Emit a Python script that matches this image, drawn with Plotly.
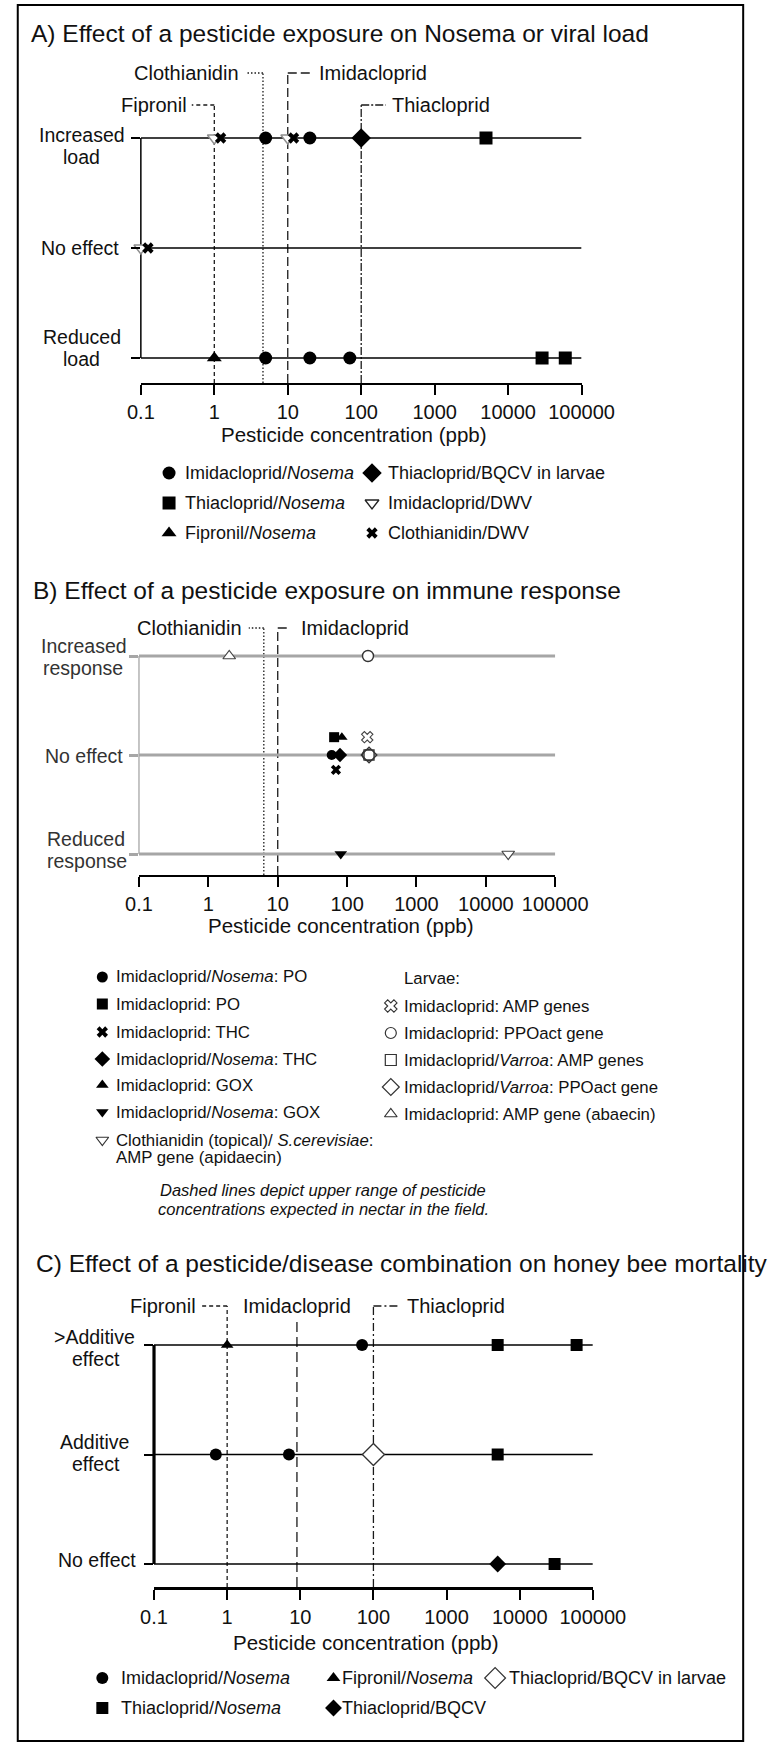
import math
import plotly.graph_objects as go

W, H = 779, 1745
FONT = "Liberation Sans, Arial, sans-serif"
INK = "#111111"

TICK_VALS = [0.1, 1, 10, 100, 1000, 10000, 100000]
TICK_TEXT = ["0.1", "1", "10", "100", "1000", "10000", "100000"]

# ---------------- A) pesticide exposure -> Nosema / viral load ----------------
A_EFFECTS = ["Reduced load", "No effect", "Increased load"]
A_IMID_NOSEMA_X = [5, 20, 5, 20, 70]
A_IMID_NOSEMA_EFF = ["Increased load", "Increased load", "Reduced load", "Reduced load", "Reduced load"]
A_THIA_NOSEMA_X = [5000, 29000, 60000]
A_THIA_NOSEMA_EFF = ["Increased load", "Reduced load", "Reduced load"]
A_FIP_NOSEMA_X = [1]
A_FIP_NOSEMA_EFF = ["Reduced load"]
A_THIA_BQCV_X = [100]
A_THIA_BQCV_EFF = ["Increased load"]
A_IMID_DWV_X = [0.1, 1, 10]
A_IMID_DWV_EFF = ["No effect", "Increased load", "Increased load"]
A_CLOTH_DWV_X = [0.125, 1.22, 12]
A_CLOTH_DWV_EFF = ["No effect", "Increased load", "Increased load"]
A_FIELD = ["Fipronil", "Clothianidin", "Imidacloprid", "Thiacloprid"]
A_FIELD_PPB = [1, 4.6, 10, 100]

# ---------------- B) pesticide exposure -> immune response ----------------
B_EFFECTS = ["Reduced response", "No effect", "Increased response"]
B_IMID_NOSEMA_PO_X = [60]
B_IMID_NOSEMA_PO_EFF = ["No effect"]
B_IMID_PO_X = [65]
B_IMID_PO_EFF = ["No effect"]
B_IMID_THC_X = [69]
B_IMID_THC_EFF = ["No effect"]
B_IMID_NOSEMA_THC_X = [79]
B_IMID_NOSEMA_THC_EFF = ["No effect"]
B_IMID_GOX_X = [84]
B_IMID_GOX_EFF = ["No effect"]
B_IMID_NOSEMA_GOX_X = [81]
B_IMID_NOSEMA_GOX_EFF = ["Reduced response"]
B_CLOTH_SCER_X = [21000]
B_CLOTH_SCER_EFF = ["Reduced response"]
B_LARV_AMP_X = [195]
B_LARV_AMP_EFF = ["No effect"]
B_LARV_PPO_X = [200, 200]
B_LARV_PPO_EFF = ["Increased response", "No effect"]
B_LARV_VAR_AMP_X = [207]
B_LARV_VAR_AMP_EFF = ["No effect"]
B_LARV_VAR_PPO_X = [207]
B_LARV_VAR_PPO_EFF = ["No effect"]
B_LARV_ABAECIN_X = [2]
B_LARV_ABAECIN_EFF = ["Increased response"]
B_FIELD = ["Clothianidin", "Imidacloprid"]
B_FIELD_PPB = [6.3, 10]

# ---------------- C) pesticide/disease combination -> mortality ----------------
C_EFFECTS = ["No effect", "Additive effect", ">Additive effect"]
C_IMID_NOSEMA_X = [70, 0.7, 7]
C_IMID_NOSEMA_EFF = [">Additive effect", "Additive effect", "Additive effect"]
C_THIA_NOSEMA_X = [5000, 60000, 5000, 30000]
C_THIA_NOSEMA_EFF = [">Additive effect", ">Additive effect", "Additive effect", "No effect"]
C_FIP_NOSEMA_X = [1]
C_FIP_NOSEMA_EFF = [">Additive effect"]
C_THIA_BQCV_X = [5000]
C_THIA_BQCV_EFF = ["No effect"]
C_THIA_BQCV_LARV_X = [100]
C_THIA_BQCV_LARV_EFF = ["Additive effect"]
C_FIELD = ["Fipronil", "Imidacloprid", "Thiacloprid"]
C_FIELD_PPB = [1, 9, 100]


def mk(symbol, size, fill="black", edge=None, lw=0):
    return dict(symbol=symbol, size=size, color=fill,
                line=dict(color=edge or fill, width=lw))


# pixel geometry of each panel (x axis ends, top of plot, axis line, rows bottom->top)
GEO = {
    "A": dict(x0=135, x1=604, top=60, axis=383, rows=(358, 248, 138)),
    "B": dict(x0=133, x1=576, top=612, axis=875, rows=(854, 755, 656)),
    "C": dict(x0=149, x1=616, top=1290, axis=1587, rows=(1564, 1454.5, 1345)),
}

PANELS = [
    dict(
        key="A", effects=A_EFFECTS,
        title="A) Effect of a pesticide exposure on Nosema or viral load", title_xy=(17, 33),
        row_color="black", row_width=1.6, yline_width=1.5, axis_width=1.5,
        row_labels=[("Increased", 72, 135), ("load", 72, 157), ("No effect", 70, 248),
                    ("Reduced", 72, 337), ("load", 72, 359)],
        label_color=INK, axis_title_xy=(362, 435),
        series=[
            (A_IMID_NOSEMA_X, A_IMID_NOSEMA_EFF, mk("circle", 13), 0),
            (A_THIA_NOSEMA_X, A_THIA_NOSEMA_EFF, mk("square", 13), 0),
            (A_FIP_NOSEMA_X, A_FIP_NOSEMA_EFF, mk("triangle-up", 13), 0),
            (A_THIA_BQCV_X, A_THIA_BQCV_EFF, mk("diamond", 15), 0),
            (A_IMID_DWV_X, A_IMID_DWV_EFF, mk("triangle-down", 12, "white", "#8f8f8f", 1.4), 0),
            (A_CLOTH_DWV_X, A_CLOTH_DWV_EFF, mk("x", 10), 0),
        ],
        field=A_FIELD, field_ppb=A_FIELD_PPB,
        field_style=[
            dict(dash="4px,3px", label_y=105, top=105, side="left", conn=24, gap=4),
            dict(dash="1.5px,2px", label_y=73, top=73, side="left", conn=18, gap=6),
            dict(dash="9px,4px", label_y=73, top=73, side="right", conn=26, gap=6),
            dict(dash="8px,2px,2px,2px", label_y=105, top=105, side="right", conn=26, gap=6),
        ],
    ),
    dict(
        key="B", effects=B_EFFECTS,
        title="B) Effect of a pesticide exposure on immune response", title_xy=(19, 590),
        row_color="#a6a6a6", row_width=3, yline_width=1.3, axis_width=2,
        row_labels=[("Increased", 74, 646), ("response", 73, 668), ("No effect", 74, 756),
                    ("Reduced", 77, 839), ("response", 78, 861)],
        label_color="#333333", axis_title_xy=(348, 925),
        series=[
            (B_IMID_NOSEMA_PO_X, B_IMID_NOSEMA_PO_EFF, mk("circle", 10), 0),
            (B_IMID_PO_X, B_IMID_PO_EFF, mk("square", 10), 0.18),
            (B_IMID_THC_X, B_IMID_THC_EFF, mk("x", 9), -0.15),
            (B_IMID_NOSEMA_THC_X, B_IMID_NOSEMA_THC_EFF, mk("diamond", 11), 0),
            (B_IMID_GOX_X, B_IMID_GOX_EFF, mk("triangle-up", 10), 0.18),
            (B_IMID_NOSEMA_GOX_X, B_IMID_NOSEMA_GOX_EFF, mk("triangle-down", 11), 0),
            (B_CLOTH_SCER_X, B_CLOTH_SCER_EFF, mk("triangle-down", 11, "white", "#444", 1.2), 0),
            (B_LARV_AMP_X, B_LARV_AMP_EFF, mk("x", 10, "white", "#444", 1.1), 0.18),
            (B_LARV_PPO_X, B_LARV_PPO_EFF, mk("circle", 11, "white", "#333", 1.4), 0),
            (B_LARV_VAR_AMP_X, B_LARV_VAR_AMP_EFF, mk("square", 10, "white", "#333", 1.3), 0),
            (B_LARV_VAR_PPO_X, B_LARV_VAR_PPO_EFF, mk("diamond-open", 12, "#333", "#333", 1.3), 0),
            (B_LARV_ABAECIN_X, B_LARV_ABAECIN_EFF, mk("triangle-up", 11, "white", "#444", 1.2), 0),
        ],
        field=B_FIELD, field_ppb=B_FIELD_PPB,
        field_style=[
            dict(dash="1.5px,2px", label_y=628, top=628, side="left", conn=16, gap=6),
            dict(dash="9px,4px", label_y=628, top=628, side="right", conn=13, gap=11),
        ],
    ),
    dict(
        key="C", effects=C_EFFECTS,
        title="C) Effect of a pesticide/disease combination on honey bee mortality", title_xy=(22, 1263),
        row_color="black", row_width=1.6, yline_width=3.2, axis_width=3,
        row_labels=[(">Additive", 86, 1337), ("effect", 87, 1359), ("Additive", 86, 1442),
                    ("effect", 87, 1464), ("No effect", 88, 1560)],
        label_color=INK, axis_title_xy=(375, 1642),
        series=[
            (C_IMID_NOSEMA_X, C_IMID_NOSEMA_EFF, mk("circle", 12), 0),
            (C_THIA_NOSEMA_X, C_THIA_NOSEMA_EFF, mk("square", 12), 0),
            (C_FIP_NOSEMA_X, C_FIP_NOSEMA_EFF, mk("triangle-up", 11), 0),
            (C_THIA_BQCV_X, C_THIA_BQCV_EFF, mk("diamond", 13), 0),
            (C_THIA_BQCV_LARV_X, C_THIA_BQCV_LARV_EFF, mk("diamond", 17, "white", "#333", 1.3), 0),
        ],
        field=C_FIELD, field_ppb=C_FIELD_PPB,
        field_style=[
            dict(dash="4px,3px", label_y=1306, top=1306, side="left", conn=28, gap=4),
            dict(dash="10px,5px", label_y=1306, top=1318, side="center", conn=0, gap=0),
            dict(dash="8px,3px,2px,3px", label_y=1306, top=1306, side="right", conn=27, gap=8),
        ],
    ),
]

# legends: (marker style, label, symbol px x, px y, text px x)
LEG_FONT = {"A": 18, "B": 16.8, "C": 18}
LEGENDS = {
    "A": [
        (mk("circle", 13), "Imidacloprid/<i>Nosema</i>", 165, 473, 181),
        (mk("square", 13), "Thiacloprid/<i>Nosema</i>", 165, 503, 181),
        (mk("triangle-up", 13), "Fipronil/<i>Nosema</i>", 165, 533, 181),
        (mk("diamond", 15), "Thiacloprid/BQCV in larvae", 381, 473, 397),
        (mk("triangle-down", 12, "white", "#222", 1.3), "Imidacloprid/DWV", 381, 503, 397),
        (mk("x", 10), "Clothianidin/DWV", 381, 533, 397),
    ],
    "B": [
        (mk("circle", 11), "Imidacloprid/<i>Nosema</i>: PO", 94, 977, 108),
        (mk("square", 11), "Imidacloprid: PO", 94, 1004, 108),
        (mk("x", 10), "Imidacloprid: THC", 94, 1032, 108),
        (mk("diamond", 12), "Imidacloprid/<i>Nosema</i>: THC", 94, 1059, 108),
        (mk("triangle-up", 11), "Imidacloprid: GOX", 94, 1085, 108),
        (mk("triangle-down", 11), "Imidacloprid/<i>Nosema</i>: GOX", 94, 1112, 108),
        (mk("triangle-down", 11, "white", "#333", 1.2), "Clothianidin (topical)/ <i>S.cerevisiae</i>:", 94, 1140, 108),
        (None, "AMP gene (apidaecin)", 94, 1157, 108),
        (None, "Larvae:", 401, 978, 414),
        (mk("x", 11, "white", "#333", 1.1), "Imidacloprid: AMP genes", 401, 1006, 414),
        (mk("circle", 11, "white", "#333", 1.2), "Imidacloprid: PPOact gene", 401, 1033, 414),
        (mk("square", 11, "white", "#333", 1.2), "Imidacloprid/<i>Varroa</i>: AMP genes", 401, 1060, 414),
        (mk("diamond", 13, "white", "#333", 1.2), "Imidacloprid/<i>Varroa</i>: PPOact gene", 401, 1087, 414),
        (mk("triangle-up", 11, "white", "#333", 1.2), "Imidacloprid: AMP gene (abaecin)", 401, 1114, 414),
    ],
    "C": [
        (mk("circle", 12), "Imidacloprid/<i>Nosema</i>", 94, 1678, 113),
        (mk("triangle-up", 12), "Fipronil/<i>Nosema</i>", 340, 1678, 348),
        (mk("diamond", 16, "white", "#333", 1.2), "Thiacloprid/BQCV in larvae", 512, 1678, 526),
        (mk("square", 12), "Thiacloprid/<i>Nosema</i>", 94, 1708, 113),
        (mk("diamond", 13), "Thiacloprid/BQCV", 340, 1708, 348),
    ],
}
NOTE = [("<i>Dashed lines depict upper range of pesticide</i>", 329, 1190),
        ("<i>concentrations expected in nectar in the field.</i>", 329, 1209)]

fig = go.Figure()
annotations = []
shapes = []


def text(s, x, y, size, anchor="center", color=INK):
    annotations.append(dict(
        text=s, x=x / W, y=1 - y / H, xref="paper", yref="paper",
        xanchor=anchor, yanchor="middle", showarrow=False, borderpad=0,
        font=dict(family=FONT, size=size, color=color)))


layout_axes = {}
for i, p in enumerate(PANELS, start=1):
    g = GEO[p["key"]]
    sfx = "" if i == 1 else str(i)
    xref, yref = "x" + sfx, "y" + sfx
    step = (g["rows"][0] - g["rows"][2]) / 2.0
    dec = (g["x1"] - g["x0"]) / 6.0

    def yv(pix, g=g, step=step):
        return (g["rows"][0] - pix) / step

    def xpix(v, g=g, dec=dec):
        return g["x0"] + (math.log10(v) + 1) * dec

    row_of = {e: k for k, e in enumerate(p["effects"])}

    layout_axes["xaxis" + sfx] = dict(
        type="log", range=[-1, 5], domain=[g["x0"] / W, g["x1"] / W], anchor=yref,
        tickvals=TICK_VALS, ticktext=TICK_TEXT, ticks="outside", ticklen=10,
        tickwidth=1.5, tickcolor="black", showline=True, linecolor="black",
        linewidth=p["axis_width"], showgrid=False, zeroline=False,
        tickfont=dict(family=FONT, size=20, color=INK), fixedrange=True)
    layout_axes["yaxis" + sfx] = dict(
        range=[yv(g["axis"]), yv(g["top"])],
        domain=[1 - g["axis"] / H, 1 - g["top"] / H], anchor=xref,
        tickvals=[0, 1, 2], ticks="outside", ticklen=9, tickwidth=p["row_width"],
        tickcolor=p["row_color"], showticklabels=False, showline=False,
        showgrid=False, zeroline=False, fixedrange=True)

    # effect rows
    for k, eff in enumerate(p["effects"]):
        fig.add_trace(go.Scatter(
            x=[TICK_VALS[0], TICK_VALS[-1]], y=[k, k], mode="lines",
            line=dict(color=p["row_color"], width=p["row_width"]),
            xaxis=xref, yaxis=yref, hoverinfo="skip", showlegend=False))

    # vertical axis joining the rows
    shapes.append(dict(type="line", xref=xref + " domain", yref=yref, x0=0, x1=0,
                       y0=0, y1=2, layer="below",
                       line=dict(color=p["row_color"] if p["key"] == "B" else "black",
                                 width=p["yline_width"])))

    # field-realistic concentration lines with labels
    for name, ppb, st in zip(p["field"], p["field_ppb"], p["field_style"]):
        lx = xpix(ppb)
        line = dict(color="#1a1a1a", width=1.3, dash=st["dash"])
        shapes.append(dict(type="line", xref=xref, yref=yref, x0=ppb, x1=ppb,
                           y0=yv(g["axis"]), y1=yv(st["top"]), layer="below", line=line))
        if st["side"] == "left":
            shapes.append(dict(type="line", xref=xref, yref=yref, x0=ppb,
                               x1=ppb * 10 ** (-st["conn"] / dec),
                               y0=yv(st["label_y"]), y1=yv(st["label_y"]), line=line))
            text(name, lx - st["conn"] - st["gap"], st["label_y"], 20, "right")
        elif st["side"] == "right":
            shapes.append(dict(type="line", xref=xref, yref=yref, x0=ppb,
                               x1=ppb * 10 ** (st["conn"] / dec),
                               y0=yv(st["label_y"]), y1=yv(st["label_y"]), line=line))
            text(name, lx + st["conn"] + st["gap"], st["label_y"], 20, "left")
        else:
            text(name, lx, st["label_y"], 20, "center")

    # data points
    for xs, effs, marker, dy in p["series"]:
        fig.add_trace(go.Scatter(
            x=xs, y=[row_of[e] + dy for e in effs], mode="markers", marker=marker,
            cliponaxis=False, xaxis=xref, yaxis=yref, showlegend=False))

    # texts
    text(p["title"], p["title_xy"][0], p["title_xy"][1], 24.5, "left")
    for s, x, y in p["row_labels"]:
        text(s, x, y, 19.5, "center", p["label_color"])
    text("Pesticide concentration (ppb)", p["axis_title_xy"][0], p["axis_title_xy"][1], 20.5)

    for marker, label, sx, sy, tx in LEGENDS[p["key"]]:
        if marker is not None:
            fig.add_trace(go.Scatter(
                x=[sx], y=[sy], mode="markers", marker=marker, cliponaxis=False,
                xaxis="x4", yaxis="y4", showlegend=False, hoverinfo="skip"))
        text(label, tx, sy, LEG_FONT[p["key"]], "left")

for s, x, y in NOTE:
    text(s, x, y, 16.5, "center")

# frame around the whole figure
shapes.append(dict(type="rect", xref="paper", yref="paper", x0=4 / W, x1=776 / W,
                   y0=1 - 1741 / H, y1=1 - 5 / H, line=dict(color="black", width=2)))

layout_axes["xaxis4"] = dict(domain=[0, 1], range=[0, W], visible=False, anchor="y4", fixedrange=True)
layout_axes["yaxis4"] = dict(domain=[0, 1], range=[H, 0], visible=False, anchor="x4", fixedrange=True)

fig.update_layout(
    width=W, height=H, margin=dict(l=0, r=0, t=0, b=0),
    paper_bgcolor="white", plot_bgcolor="rgba(0,0,0,0)",
    font=dict(family=FONT, color=INK), showlegend=False,
    annotations=annotations, shapes=shapes, **layout_axes)

fig.write_html("out.html", config={"displayModeBar": False},
               post_script="document.body.style.margin='0px';")
